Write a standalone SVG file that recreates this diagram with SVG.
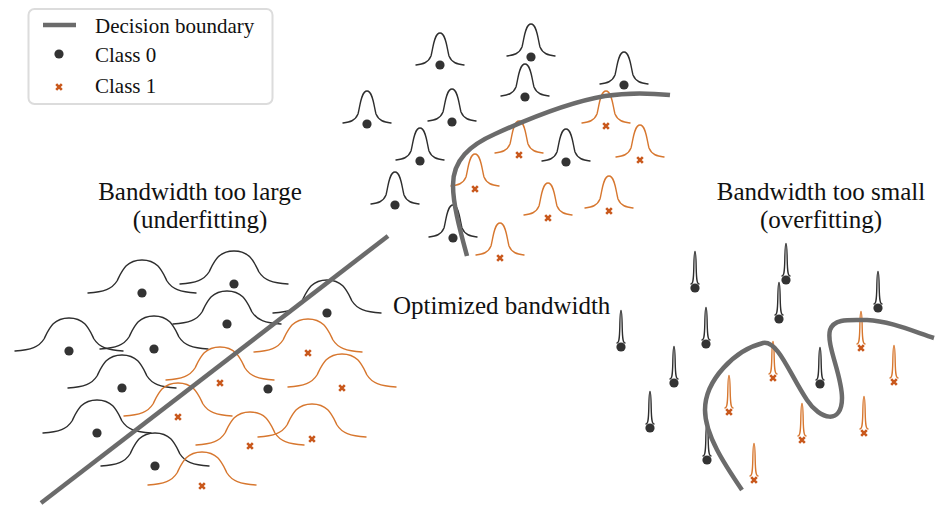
<svg xmlns="http://www.w3.org/2000/svg" xmlns:xlink="http://www.w3.org/1999/xlink" width="935" height="507" viewBox="0 0 935 507">
  <style>
    .txt { font-family: "Liberation Serif", "Times New Roman", serif; fill: #111; }
    .legend-txt { font-size: 21px; }
    .title { font-size: 25px; text-anchor: middle; }
    .k0 { stroke: #2e2e2e; fill: none; stroke-width: 1.4; stroke-linecap: round; stroke-linejoin: round; }
    .k1 { stroke: #d7772f; fill: none; stroke-width: 1.4; stroke-linecap: round; stroke-linejoin: round; }
    .boundary { stroke: #6b6b6b; fill: none; stroke-width: 4.5; stroke-linecap: butt; }
  </style>
  <defs>
    <!-- wide kernel (large bandwidth) -->
    <path id="bumpWide" d="M-54,0 C-38,-1 -30,-4 -25,-12 C-20,-22 -16,-33 0,-33 C16,-33 20,-22 25,-12 C30,-4 38,-1 54,0"/>
    <!-- medium kernel (optimized bandwidth) -->
    <path id="bumpMid" d="M-24,0 C-17,-1 -12,-2 -9,-9 C-7,-16 -6,-32 0,-32 C6,-32 7,-16 9,-9 C12,-2 17,-1 24,0"/>
    <!-- narrow kernel (small bandwidth) -->
    <path id="spike" d="M-4,-4 C-2,-4 -1.5,-8 -1.2,-20 C-1,-32 -0.6,-36.5 0,-36.5 C0.6,-36.5 1,-32 1.2,-20 C1.5,-8 2,-4 4,-4"/>
    <circle id="dot" r="4.6" fill="#333"/>
    <path id="cross" d="M-2.8,-2.8 L2.8,2.8 M2.8,-2.8 L-2.8,2.8" stroke="#c9581c" stroke-width="2.6" fill="none"/>
  </defs>

  <!-- legend -->
  <g id="legend">
    <rect x="28.5" y="9" width="244" height="95" rx="6" fill="#fff" stroke="#dcdcdc" stroke-width="2"/>
    <line x1="43" y1="25" x2="76" y2="25" stroke="#6b6b6b" stroke-width="4.5"/>
    <text class="txt legend-txt" x="95" y="33">Decision boundary</text>
    <use href="#dot" x="59" y="54"/>
    <text class="txt legend-txt" x="95" y="62">Class 0</text>
    <use href="#cross" x="59" y="87"/>
    <text class="txt legend-txt" x="95" y="93">Class 1</text>
  </g>

  <!-- panel titles -->
  <g id="title-large">
    <text class="txt title" x="200" y="200">Bandwidth too large</text>
    <text class="txt title" x="200" y="228">(underfitting)</text>
  </g>
  <g id="title-small">
    <text class="txt title" x="821" y="200">Bandwidth too small</text>
    <text class="txt title" x="821" y="228">(overfitting)</text>
  </g>
  <g id="title-optimized">
    <text class="txt" style="font-size:25px" x="393" y="314">Optimized bandwidth</text>
  </g>

  <!-- large bandwidth: wide kernels -->
  <g id="cluster-large">
    <g class="k0">
      <use href="#bumpWide" x="142" y="293"/>
      <use href="#bumpWide" x="234" y="284"/>
      <use href="#bumpWide" x="327" y="313"/>
      <use href="#bumpWide" x="69" y="351"/>
      <use href="#bumpWide" x="154" y="349"/>
      <use href="#bumpWide" x="227" y="324"/>
      <use href="#bumpWide" x="122" y="388"/>
      <use href="#bumpWide" x="97" y="433"/>
      <use href="#bumpWide" x="155" y="466"/>
    </g>
    <g class="k1">
      <use href="#bumpWide" x="308" y="352"/>
      <use href="#bumpWide" x="342" y="387"/>
      <use href="#bumpWide" x="220" y="380"/>
      <use href="#bumpWide" x="178" y="416"/>
      <use href="#bumpWide" x="250" y="445"/>
      <use href="#bumpWide" x="312" y="437"/>
      <use href="#bumpWide" x="202" y="485"/>
    </g>
    <use href="#dot" x="142" y="293"/>
    <use href="#dot" x="234" y="284"/>
    <use href="#dot" x="327" y="313"/>
    <use href="#dot" x="69" y="351"/>
    <use href="#dot" x="154" y="349"/>
    <use href="#dot" x="227" y="324"/>
    <use href="#dot" x="122" y="388"/>
    <use href="#dot" x="268" y="389"/>
    <use href="#dot" x="97" y="433"/>
    <use href="#dot" x="155" y="466"/>
    <use href="#cross" x="308" y="353"/>
    <use href="#cross" x="342" y="388"/>
    <use href="#cross" x="220" y="383"/>
    <use href="#cross" x="178" y="417"/>
    <use href="#cross" x="250" y="446"/>
    <use href="#cross" x="312" y="439"/>
    <use href="#cross" x="202" y="486"/>
  </g>

  <!-- optimized bandwidth: medium kernels -->
  <g id="cluster-optimized">
    <g class="k0">
      <use href="#bumpMid" x="440" y="65"/>
      <use href="#bumpMid" x="531" y="56"/>
      <use href="#bumpMid" x="525" y="96"/>
      <use href="#bumpMid" x="624" y="84"/>
      <use href="#bumpMid" x="367" y="123"/>
      <use href="#bumpMid" x="452" y="121"/>
      <use href="#bumpMid" x="420" y="160"/>
      <use href="#bumpMid" x="566" y="161"/>
      <use href="#bumpMid" x="395" y="204"/>
      <use href="#bumpMid" x="453" y="237"/>
    </g>
    <g class="k1">
      <use href="#bumpMid" x="606" y="123"/>
      <use href="#bumpMid" x="519" y="153"/>
      <use href="#bumpMid" x="640" y="157"/>
      <use href="#bumpMid" x="475" y="186"/>
      <use href="#bumpMid" x="548" y="215"/>
      <use href="#bumpMid" x="609" y="208"/>
      <use href="#bumpMid" x="500" y="255"/>
    </g>
    <use href="#dot" x="440" y="65"/>
    <use href="#dot" x="531" y="57"/>
    <use href="#dot" x="525" y="97"/>
    <use href="#dot" x="624" y="85"/>
    <use href="#dot" x="367" y="124"/>
    <use href="#dot" x="452" y="122"/>
    <use href="#dot" x="420" y="161"/>
    <use href="#dot" x="566" y="162"/>
    <use href="#dot" x="395" y="205"/>
    <use href="#dot" x="453" y="238"/>
    <use href="#cross" x="606" y="126"/>
    <use href="#cross" x="519" y="155"/>
    <use href="#cross" x="640" y="160"/>
    <use href="#cross" x="475" y="189"/>
    <use href="#cross" x="548" y="218"/>
    <use href="#cross" x="609" y="211"/>
    <use href="#cross" x="500" y="258"/>
  </g>

  <!-- small bandwidth: narrow kernels -->
  <g id="cluster-small">
    <g class="k0">
      <use href="#spike" x="695" y="288"/>
      <use href="#spike" x="786" y="280"/>
      <use href="#spike" x="779" y="319"/>
      <use href="#spike" x="878" y="308"/>
      <use href="#spike" x="621" y="347"/>
      <use href="#spike" x="706" y="344"/>
      <use href="#spike" x="674" y="383"/>
      <use href="#spike" x="820" y="384"/>
      <use href="#spike" x="650" y="428"/>
      <use href="#spike" x="707" y="460"/>
    </g>
    <g class="k1">
      <use href="#spike" x="861" y="348"/>
      <use href="#spike" x="773" y="378"/>
      <use href="#spike" x="894" y="382"/>
      <use href="#spike" x="729" y="412"/>
      <use href="#spike" x="864" y="433"/>
      <use href="#spike" x="802" y="440"/>
      <use href="#spike" x="754" y="480"/>
    </g>
    <use href="#dot" x="695" y="288"/>
    <use href="#dot" x="786" y="280"/>
    <use href="#dot" x="779" y="319"/>
    <use href="#dot" x="878" y="308"/>
    <use href="#dot" x="621" y="347"/>
    <use href="#dot" x="706" y="344"/>
    <use href="#dot" x="674" y="383"/>
    <use href="#dot" x="820" y="384"/>
    <use href="#dot" x="650" y="428"/>
    <use href="#dot" x="707" y="460"/>
    <use href="#cross" x="861" y="348"/>
    <use href="#cross" x="773" y="378"/>
    <use href="#cross" x="894" y="382"/>
    <use href="#cross" x="729" y="412"/>
    <use href="#cross" x="864" y="433"/>
    <use href="#cross" x="802" y="440"/>
    <use href="#cross" x="754" y="480"/>
  </g>

  <!-- decision boundaries -->
  <g id="boundaries">
    <line class="boundary" x1="388" y1="236" x2="41" y2="503"/>
    <path class="boundary" d="M467,256 C460,230 453,205 453,185 C453,160 470,145 495,134 C530,118 570,102 605,96 C630,92 650,93 670,95"/>
    <path class="boundary" d="M742,490 C725,465 705,435 705,410 C705,380 735,350 763,343 C778,340 790,375 807,400 C820,420 842,425 842,398 C842,375 826,345 830,330 C834,318 850,320 867,320 C890,321 915,332 934,338"/>
  </g>
</svg>
